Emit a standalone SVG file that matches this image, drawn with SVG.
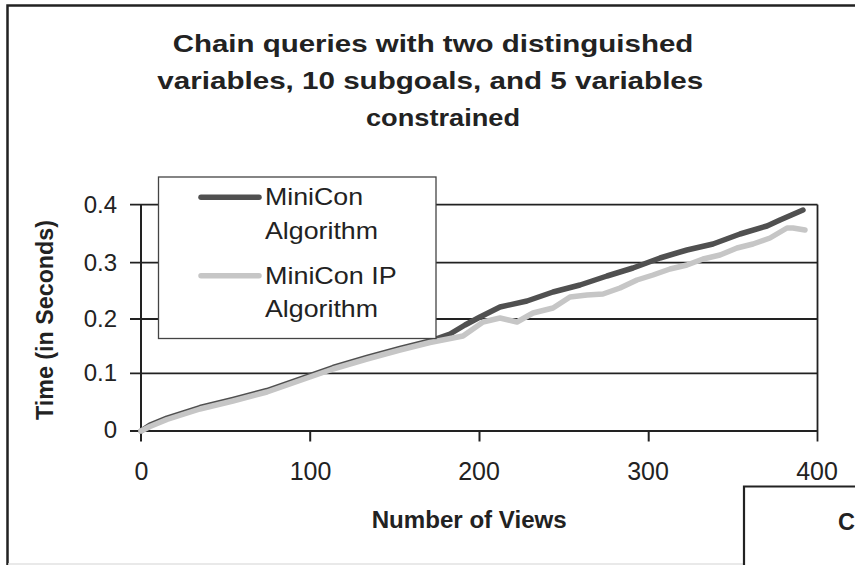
<svg xmlns="http://www.w3.org/2000/svg" width="855" height="565" viewBox="0 0 855 565">
<style>
.t{font-family:"Liberation Sans",Arial,sans-serif;fill:#222;}
.b{font-weight:bold;}
.grid{stroke:#222;stroke-width:1.8;fill:none;}
.tick{stroke:#222;stroke-width:2;fill:none;}
.s1{stroke:#505050;stroke-width:5.5;fill:none;stroke-linejoin:round;stroke-linecap:round;}
.s2{stroke:#c6c6c6;stroke-width:5.5;fill:none;stroke-linejoin:round;stroke-linecap:round;}
</style>
<rect x="0" y="0" width="855" height="565" fill="#fff"/>
<g id="frame">
<path d="M7.5,565 V5.5 H855" stroke="#222" stroke-width="2.5" fill="none"/>
<path d="M8,564 H744" stroke="#e2e2e2" stroke-width="1.5" fill="none"/>
<path d="M744,565 V486.5 H855" stroke="#222" stroke-width="2.2" fill="none"/>
<text class="t b" x="838" y="530" font-size="23.5">C</text>
</g>
<g id="title">
<text class="t b" x="172.7" y="51.5" font-size="24.5" textLength="520.6" lengthAdjust="spacingAndGlyphs">Chain queries with two distinguished</text>
<text class="t b" x="157.3" y="88.5" font-size="24.5" textLength="546" lengthAdjust="spacingAndGlyphs">variables, 10 subgoals, and 5 variables</text>
<text class="t b" x="366" y="125.5" font-size="24.5" textLength="154" lengthAdjust="spacingAndGlyphs">constrained</text>
</g>
<g id="grid">
<path class="grid" d="M130,204.6 H817.5 M130,262.7 H817.5 M130,373.3 H817.5"/>
<path class="grid" d="M130,319 H817.5" stroke-width="1.2"/>
<path class="grid" d="M817.5,204.6 V441.5"/>
</g>
<g id="axes">
<path class="tick" d="M141,204.6 V441.5 M130,431 H817.5"/>
<path class="tick" d="M310.2,431 V441.5 M479.5,431 V441.5 M648.7,431 V441.5"/>
</g>
<g id="ylabels" class="t" font-size="24" text-anchor="end">
<text x="117" y="212.5">0.4</text>
<text x="117" y="270.7">0.3</text>
<text x="117" y="327">0.2</text>
<text x="117" y="381.3">0.1</text>
<text x="117" y="438">0</text>
</g>
<g id="xlabels" class="t" font-size="25" text-anchor="middle">
<text x="141.5" y="480">0</text>
<text x="310.5" y="480">100</text>
<text x="479" y="480">200</text>
<text x="648" y="480">300</text>
<text x="817" y="480">400</text>
</g>
<text id="ytitle" class="t b" font-size="23" text-anchor="middle" textLength="200" lengthAdjust="spacingAndGlyphs" transform="translate(53,320) rotate(-90)">Time (in Seconds)</text>
<text id="xtitle" class="t b" x="371.7" y="528" font-size="23.5" textLength="195" lengthAdjust="spacingAndGlyphs">Number of Views</text>
<g id="series">
<path id="minicon" class="s1" d="M141,431 L150,425 L167,418 L200,407.5 L233,399.5 L267,390.5 L310,375.5 L333,367.5 L367,357.5 L400,348.5 L430,341 L450,334 L465,325 L480,317 L500,307 L527,301 L553,292 L580,285 L607,276 L633,268 L660,258 L687,250 L713,244 L740,234 L767,226 L780,220 L803,210"/>
<path id="miniconip" class="s2" d="M141,431 L150,426.5 L167,419.5 L200,409 L233,401 L267,392 L310,377 L333,369 L367,359 L400,350 L430,342.5 L463,336 L483,322 L500,318 L517,322 L533,313 L553,308 L570,297 L587,295 L603,294 L620,288 L637,280 L653,275 L670,269 L687,265 L703,259 L720,255 L737,248 L753,244 L770,238 L787,228 L793,228 L805,230"/>
</g>
<g id="legend">
<rect x="158.5" y="177" width="277.5" height="161.5" fill="#fff" stroke="#444" stroke-width="1.3"/>
<path class="s1" d="M201,197.3 H259"/>
<path class="s2" d="M201,275.7 H259"/>
<text class="t" x="265" y="205" font-size="24" textLength="98" lengthAdjust="spacingAndGlyphs">MiniCon</text>
<text class="t" x="265" y="238.5" font-size="24" textLength="113" lengthAdjust="spacingAndGlyphs">Algorithm</text>
<text class="t" x="265" y="283.5" font-size="24" textLength="131.7" lengthAdjust="spacingAndGlyphs">MiniCon IP</text>
<text class="t" x="265" y="317" font-size="24" textLength="113" lengthAdjust="spacingAndGlyphs">Algorithm</text>
</g>
</svg>
